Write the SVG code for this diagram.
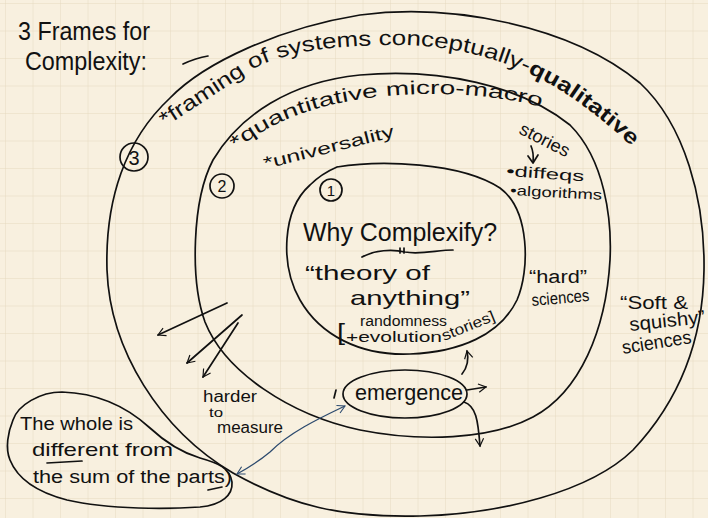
<svg xmlns="http://www.w3.org/2000/svg" width="708" height="518" viewBox="0 0 708 518">
<defs>
<pattern id="grid" width="27.5" height="27.5" patternUnits="userSpaceOnUse" x="6" y="4">
<path d="M27.5 0V27.5M0 27.5H27.5" fill="none" stroke="#e6dac0" stroke-width="1"/>
</pattern>
<marker id="ah" viewBox="0 0 12 12" refX="10" refY="6" markerWidth="10" markerHeight="10" markerUnits="userSpaceOnUse" orient="auto-start-reverse">
<path d="M1 1L10 6L1 11" fill="none" stroke="#111" stroke-width="1.4"/>
</marker>
<marker id="ahb" viewBox="0 0 12 12" refX="10" refY="6" markerWidth="10" markerHeight="10" markerUnits="userSpaceOnUse" orient="auto-start-reverse">
<path d="M1 1L10 6L1 11" fill="none" stroke="#2c4a6e" stroke-width="1.3"/>
</marker>
<path id="p3" d="M165,127 L255,68 C290,50 340,45 400,45 C470,46 530,68 575,100 C610,125 635,148 650,166"/>
<path id="p2" d="M236,150 C275,118 330,97 420,94 C480,93 530,101 566,115"/>
</defs>
<style>
.ln{fill:none;stroke:#111;stroke-width:1.7;stroke-linecap:round;stroke-linejoin:round}
.t{font-family:"Liberation Sans","DejaVu Sans",sans-serif;fill:#111}
.bl{fill:none;stroke:#2c4a6e;stroke-width:1.3}
</style>
<rect width="708" height="518" fill="#f8f0df"/>
<rect width="708" height="518" fill="url(#grid)"/>

<g id="title">
<text class="t" x="18" y="40" font-size="25" textLength="132" lengthAdjust="spacingAndGlyphs">3 Frames for</text>
<text class="t" x="25" y="70" font-size="25" textLength="122" lengthAdjust="spacingAndGlyphs">Complexity:</text>
</g>

<g id="frame3">
<path class="ln" d="M183,64 Q196,58 208,56"/>
<path class="ln" d="M170,98 C205,62 280,28 360,15 C450,3 570,25 640,83 C685,125 705,200 704,270 C703,340 680,400 633,450 C590,492 500,514 420,516 C340,518 290,505 233,473 C160,430 110,350 107,270 C105,200 125,140 170,98"/>
<circle class="ln" cx="134" cy="157" r="14" stroke-width="1.5"/>
<text class="t" x="134" y="165" font-size="20" text-anchor="middle">3</text>
<text class="t" font-size="21"><textPath href="#p3" textLength="515" lengthAdjust="spacingAndGlyphs">*framing of systems conceptually-<tspan font-weight="bold">qualitative</tspan></textPath></text>
<text class="t" x="620" y="309" font-size="19" textLength="68" lengthAdjust="spacingAndGlyphs">“Soft &amp;</text>
<text class="t" x="630" y="331" font-size="19" textLength="76" lengthAdjust="spacingAndGlyphs" transform="rotate(-6 630 331)">squishy”</text>
<text class="t" x="623" y="354" font-size="19" textLength="70" lengthAdjust="spacingAndGlyphs" transform="rotate(-9 623 354)">sciences</text>
</g>

<g id="frame2">
<path class="ln" d="M213,160 C240,115 290,82 360,75 C440,68 520,85 570,125 C605,160 612,220 610,260 C606,330 580,392 533,417 C490,440 420,442 360,430 C290,415 225,372 205,322 C190,280 192,200 213,160"/>
<circle class="ln" cx="222" cy="186" r="12" stroke-width="1.5"/>
<text class="t" x="222" y="192" font-size="16" text-anchor="middle">2</text>
<text class="t" font-size="19"><textPath href="#p2" textLength="318" lengthAdjust="spacingAndGlyphs">*quantitative micro-macro</textPath></text>
<text class="t" x="518" y="133" font-size="18" textLength="54" lengthAdjust="spacingAndGlyphs" transform="rotate(27 518 133)">stories</text>
<text class="t" x="265" y="169" font-size="17" textLength="134" lengthAdjust="spacingAndGlyphs" transform="rotate(-14 265 169)">*universality</text>
<path class="ln" d="M531,146 Q534,153 533,162" stroke-width="2.6"/>
<path class="ln" d="M528,156 L533,163 L538,155" stroke-width="2.2"/>
<text class="t" x="506" y="176" font-size="15" textLength="78" lengthAdjust="spacingAndGlyphs" transform="rotate(4 506 176)">•diffeqs</text>
<text class="t" x="510" y="195" font-size="14" textLength="92" lengthAdjust="spacingAndGlyphs" transform="rotate(3 510 195)">•algorithms</text>
<text class="t" x="529" y="283" font-size="18" textLength="58" lengthAdjust="spacingAndGlyphs">“hard”</text>
<text class="t" x="532" y="306" font-size="17" textLength="58" lengthAdjust="spacingAndGlyphs" transform="rotate(-5 532 306)">sciences</text>
<text class="t" x="203" y="402" font-size="16" textLength="54" lengthAdjust="spacingAndGlyphs">harder</text>
<text class="t" x="209" y="417" font-size="13" textLength="14" lengthAdjust="spacingAndGlyphs">to</text>
<text class="t" x="217" y="433" font-size="16" textLength="66" lengthAdjust="spacingAndGlyphs">measure</text>
</g>

<g id="frame1">
<path class="ln" d="M337,167 C380,160 460,162 500,188 C530,210 530,270 517,300 C500,335 460,352 410,354 C360,356 320,335 300,300 C280,265 282,210 310,185 C320,175 330,170 337,167"/>
<circle class="ln" cx="331" cy="190" r="11" stroke-width="1.5"/>
<text class="t" x="331" y="196" font-size="15" text-anchor="middle">1</text>
<text class="t" x="303" y="241" font-size="26" textLength="194" lengthAdjust="spacingAndGlyphs">Why Complexify?</text>
<path class="ln" d="M362,257 C375,250 392,249 405,252 C420,255 438,250 453,250" stroke-width="1.5"/>
<path class="ln" d="M400,248 L400,253 M404,248 L404,253" stroke-width="1"/>
<text class="t" x="305" y="280" font-size="21" textLength="125" lengthAdjust="spacingAndGlyphs">“theory of</text>
<text class="t" x="350" y="305" font-size="21" textLength="120" lengthAdjust="spacingAndGlyphs">anything”</text>
<text class="t" x="337" y="340" font-size="24" textLength="8" lengthAdjust="spacingAndGlyphs">[</text>
<text class="t" x="360" y="326" font-size="14" textLength="87" lengthAdjust="spacingAndGlyphs">randomness</text>
<text class="t" x="346" y="342" font-size="15" textLength="96" lengthAdjust="spacingAndGlyphs">+evolution</text>
<text class="t" x="444" y="341" font-size="15" textLength="56" lengthAdjust="spacingAndGlyphs" transform="rotate(-22 444 341)">stories]</text>
</g>

<g id="emergence">
<ellipse class="ln" cx="405" cy="394" rx="62" ry="24" stroke-width="1.5"/>
<text class="t" x="355" y="400" font-size="22" textLength="108" lengthAdjust="spacingAndGlyphs">emergence</text>
<path class="ln" d="M336,390 L334,398" stroke-width="0.9"/>
</g>

<g id="whole">
<path class="ln" d="M13,420 C18,405 40,392 62,392 C95,393 125,405 150,428 C165,442 180,452 200,458 C218,463 230,468 232,482 C233,495 222,505 200,507 C170,509 110,510 67,500 C40,493 18,480 10,460 C5,448 8,432 13,420" stroke-width="1.4"/>
<text class="t" x="20" y="430" font-size="18" textLength="113" lengthAdjust="spacingAndGlyphs">The whole is</text>
<text class="t" x="32" y="456" font-size="19" textLength="141" lengthAdjust="spacingAndGlyphs">different from</text>
<text class="t" x="33" y="483" font-size="18" textLength="199" lengthAdjust="spacingAndGlyphs">the sum of the parts)</text>
<path class="ln" d="M47,463 L82,461" stroke-width="1.4"/>
<path class="ln" d="M208,490 L222,487" stroke-width="1.2"/>
</g>

<g id="connectors">
<path class="ln" d="M227,303 L158,335" marker-end="url(#ah)" stroke-width="1.4"/>
<path class="ln" d="M242,315 L187,363" marker-end="url(#ah)" stroke-width="1.4"/>
<path class="ln" d="M238,323 L203,377" marker-end="url(#ah)" stroke-width="1.4"/>
<path class="ln" d="M462,374 Q470,364 467,351" marker-end="url(#ah)" stroke-width="1.5"/>
<path class="ln" d="M467,390 L486,387" marker-end="url(#ah)" stroke-width="1.5"/>
<path class="ln" d="M464,402 C476,406 478,420 480,446" marker-end="url(#ah)" stroke-width="1.5"/>
<path class="bl" d="M345,406 C320,418 290,432 270,452 C258,462 248,468 237,474" marker-start="url(#ahb)" marker-end="url(#ahb)"/>
</g>
</svg>
